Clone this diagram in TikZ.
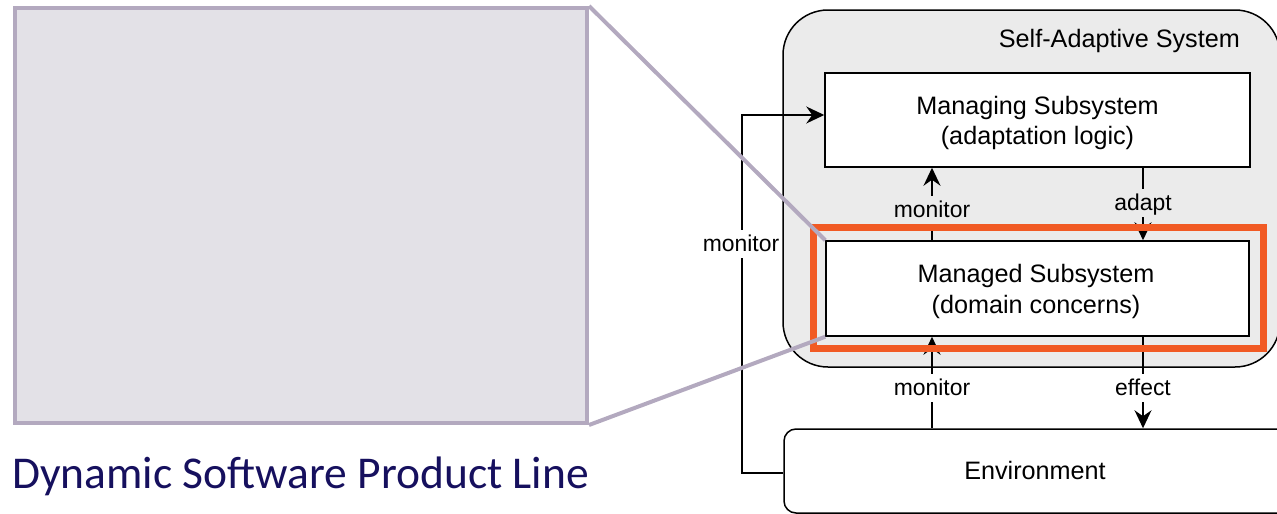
\documentclass[tikz,border=0pt]{standalone}
\usepackage{fontspec}
\setmainfont{Liberation Sans}
\newfontfamily\captionfont{Carlito}
\usetikzlibrary{arrows.meta,calc}
\definecolor{sysfill}{HTML}{EBEBEB}
\definecolor{zoomline}{HTML}{B3A9BF}
\definecolor{zoomfill}{HTML}{E3E1E7}
\definecolor{focus}{HTML}{F15A24}
\definecolor{navy}{HTML}{16105E}

\begin{document}
\begin{tikzpicture}[x=1pt,y=-1pt,
  boxtext/.style={font=\fontsize{25.2}{31}\selectfont, anchor=base, inner sep=0pt},
  subsys/.style={draw=black, line width=1.5pt, fill=white, inner sep=0pt},
  conn/.style={line width=1.5pt, -{Stealth[length=18pt,width=17pt,inset=6pt]}},
  lbl/.style={font=\fontsize{22.9}{26}\selectfont, text height=17pt, text depth=3pt,
    inner xsep=3pt, inner ysep=4pt, anchor=base},
  zoomlink/.style={draw=zoomline, line width=4pt}
]
\useasboundingbox (0,0) rectangle (1277,514);

% product line panel and its caption
\node[draw=zoomline, fill=zoomfill, line width=4pt, minimum width=572, minimum height=415,
  inner sep=0pt] (dspl) at (301,215.5) {};
\node[font=\captionfont\fontsize{45.5}{52}\selectfont, text=navy, anchor=base west,
  inner sep=0pt] (caption) at (12,488) {Dynamic Software Product Line};

% self-adaptive system container
\node[draw=black, fill=sysfill, line width=1.5pt, rounded corners=45pt,
  minimum width=497, minimum height=357, inner sep=0pt] (sas) at (1031.5,188.5) {};
\node[boxtext, anchor=base east] (sastitle) at (1240,47) {Self-Adaptive System};

% subsystems and environment
\node[subsys, minimum width=425, minimum height=94] (managing) at (1037.5,120) {};
\node[boxtext] (managing1) at (1037.5,114) {Managing Subsystem};
\node[boxtext] (managing2) at (1037.5,144) {(adaptation logic)};
\node[subsys, minimum width=423, minimum height=95] (managed) at (1037.5,288.5) {};
\node[boxtext] (managed1) at (1036,282) {Managed Subsystem};
\node[boxtext] (managed2) at (1036,313) {(domain concerns)};
\node[draw=black, fill=white, line width=1.5pt, rounded corners=12pt,
  minimum width=506, minimum height=84, inner sep=0pt] (env) at (1037,471) {};
\node[boxtext] (envtext) at (1035,479) {Environment};

% connector columns and bend points
\coordinate (xm) at (932,0);
\coordinate (xa) at (1143,0);
\coordinate (xl) at (742,0);
\coordinate (envport) at ($(env.west)+(0,2)$);
\coordinate (mgport) at ($(managing.west)+(0,-5)$);

\draw[conn] (managed.north -| xm) -- (managing.south -| xm);
\draw[conn] (managing.south -| xa) -- (managed.north -| xa);
\draw[conn] (env.north -| xm) -- (managed.south -| xm);
\draw[conn] (managed.south -| xa) -- (env.north -| xa);
\draw[conn] (envport) -- (envport -| xl) -- (mgport -| xl) -- (mgport);

% connector labels
\node[lbl, fill=sysfill] (monup) at (932,217) {monitor};
\node[lbl, fill=sysfill] (adapt) at (1143,210) {adapt};
\node[lbl, fill=white] (mondown) at (932,395) {monitor};
\node[lbl, fill=white] (effect) at (1143,395) {effect};
\node[lbl, fill=white, inner xsep=2pt] (monleft) at (741,251) {monitor};

% highlighted managed subsystem
\node[draw=focus, line width=7pt, minimum width=450, minimum height=121,
  inner sep=0pt] (focusbox) at (1038,287.5) {};

% zoom links from the panel to the managed subsystem
\draw[zoomlink] (dspl.north east) -- (managed.north west);
\draw[zoomlink] (dspl.south east) -- (managed.south west);
\end{tikzpicture}
\end{document}
